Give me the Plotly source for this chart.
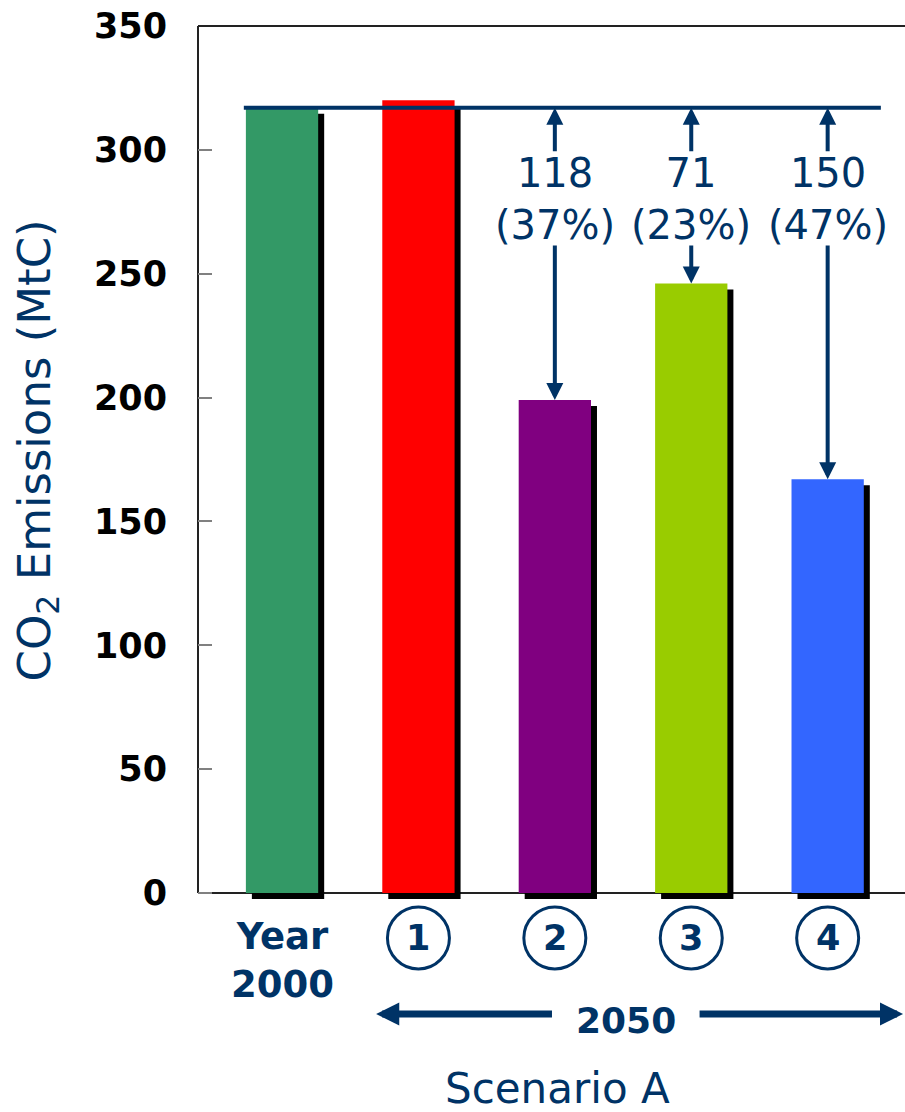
import plotly.graph_objects as go

# CO2 emissions: year 2000 and four 2050 cases of Scenario A (MtC)
categories = ["Year<br>2000", "1", "2", "3", "4"]
emissions = [317, 320, 199, 246, 167]
bar_colors = ["#339966", "#FF0000", "#800080", "#99CC00", "#3366FF"]
baseline = 317                      # year-2000 reference level
reductions = [None, None, 118, 71, 150]
reduction_pct = [None, None, 37, 23, 47]

NAVY = "#003366"
FONT = "DejaVu Sans"
y_ticks = [0, 50, 100, 150, 200, 250, 300, 350]

x = list(range(len(categories)))
bar_w = 0.53
shadow_dx = 0.044      # drop-shadow shift in x (category units)
shadow_dy = 2.42       # drop-shadow shift in y (MtC)

fig = go.Figure()

# drop shadows behind each bar
fig.add_trace(go.Bar(
    x=x, y=emissions, base=[-shadow_dy] * len(x),
    width=bar_w, offset=-bar_w / 2 + shadow_dx,
    marker=dict(color="black", line=dict(width=0)),
    hoverinfo="skip", showlegend=False,
))
# the bars
fig.add_trace(go.Bar(
    x=x, y=emissions, width=bar_w, offset=-bar_w / 2,
    marker=dict(color=bar_colors, line=dict(width=0)),
    showlegend=False,
))

shapes = [
    # plot frame: top, left, bottom
    dict(type="line", xref="x domain", yref="y domain", x0=0, x1=1, y0=1, y1=1,
         line=dict(color="#222222", width=2)),
    dict(type="line", xref="x domain", yref="y", x0=0, x1=0, y0=0, y1=350,
         line=dict(color="#222222", width=2), layer="below"),
    dict(type="line", xref="x domain", yref="y", x0=0, x1=1, y0=0, y1=0,
         line=dict(color="#222222", width=2), layer="below"),
    # year-2000 reference level
    dict(type="line", xref="x", yref="y", x0=-0.28, x1=4.39, y0=baseline, y1=baseline,
         line=dict(color=NAVY, width=4)),
]

annotations = []

# reduction arrows and labels
for i, (red, pct) in enumerate(zip(reductions, reduction_pct)):
    if red is None:
        continue
    annotations.append(dict(
        x=i, y=baseline, xref="x", yref="y", text=f"{red}<br>({pct}%)",
        showarrow=False, yanchor="middle", yshift=-91,
        font=dict(family=FONT, size=40, color=NAVY),
    ))
    annotations.append(dict(
        x=i, y=baseline, xref="x", yref="y", text="", showarrow=True,
        axref="pixel", ayref="pixel", ax=0, ay=45,
        arrowhead=2, arrowsize=0.85, arrowwidth=4, arrowcolor=NAVY,
    ))
    annotations.append(dict(
        x=i, y=emissions[i], xref="x", yref="y", text="", showarrow=True,
        axref="pixel", ayref="y", ax=0, ay=baseline - 55,
        arrowhead=2, arrowsize=0.85, arrowwidth=4, arrowcolor=NAVY,
    ))

# category labels under the axis
annotations.append(dict(
    x=0, y=0, xref="x", yref="paper", text="<b>" + categories[0] + "</b>",
    showarrow=False, yanchor="top", yshift=-14,
    font=dict(family=FONT, size=37, color=NAVY),
))
for i in range(1, len(categories)):
    annotations.append(dict(
        x=i, y=0, xref="x", yref="paper", text="<b>" + categories[i] + "</b>",
        showarrow=False, yanchor="middle", yshift=-39,
        font=dict(family=FONT, size=35, color=NAVY),
    ))
    shapes.append(dict(
        type="circle", xref="x", yref="paper", xsizemode="pixel", ysizemode="pixel",
        xanchor=i, yanchor=0, x0=-31, x1=31, y0=-39 - 31, y1=-39 + 31,
        line=dict(color=NAVY, width=3),
    ))

# 2050 span arrows
annotations.append(dict(
    x=0.69, y=0, xref="x", yref="paper", text="", showarrow=True,
    axref="x", ayref="pixel", ax=1.99, ay=0, yshift=-115,
    arrowhead=2, arrowsize=0.66, arrowwidth=7, arrowcolor=NAVY,
))
annotations.append(dict(
    x=4.553, y=0, xref="x", yref="paper", text="", showarrow=True,
    axref="x", ayref="pixel", ax=3.05, ay=0, yshift=-115,
    arrowhead=2, arrowsize=0.66, arrowwidth=7, arrowcolor=NAVY,
))
annotations.append(dict(
    x=2.52, y=0, xref="x", yref="paper", text="<b>2050</b>",
    showarrow=False, yanchor="middle", yshift=-121,
    font=dict(family=FONT, size=36, color=NAVY),
))
annotations.append(dict(
    x=2.02, y=0, xref="x", yref="paper", text="Scenario A",
    showarrow=False, yanchor="middle", yshift=-189,
    font=dict(family=FONT, size=42, color=NAVY),
))

# y-axis title
annotations.append(dict(
    x=0, y=0.5, xref="paper", yref="paper", text="CO<sub>2</sub> Emissions (MtC)",
    showarrow=False, textangle=-90, xanchor="center", yanchor="middle",
    xshift=-162, yshift=12,
    font=dict(family=FONT, size=45, color=NAVY),
))

fig.update_layout(
    width=905, height=1112,
    margin=dict(l=198, r=0, t=26, b=213),
    paper_bgcolor="white", plot_bgcolor="white",
    barmode="overlay",
    shapes=shapes, annotations=annotations,
    xaxis=dict(range=[-0.616, 4.567], showticklabels=False, ticks="",
               showgrid=False, zeroline=False, showline=False),
    yaxis=dict(range=[-shadow_dy, 350], tickvals=y_ticks,
               ticks="inside", ticklen=14, tickwidth=2, tickcolor="#808080",
               ticklabelstandoff=30,
               tickfont=dict(family=FONT, size=35, color="black", weight="bold"),
               showgrid=False, zeroline=False, showline=False),
)

fig.write_html("out.html")
